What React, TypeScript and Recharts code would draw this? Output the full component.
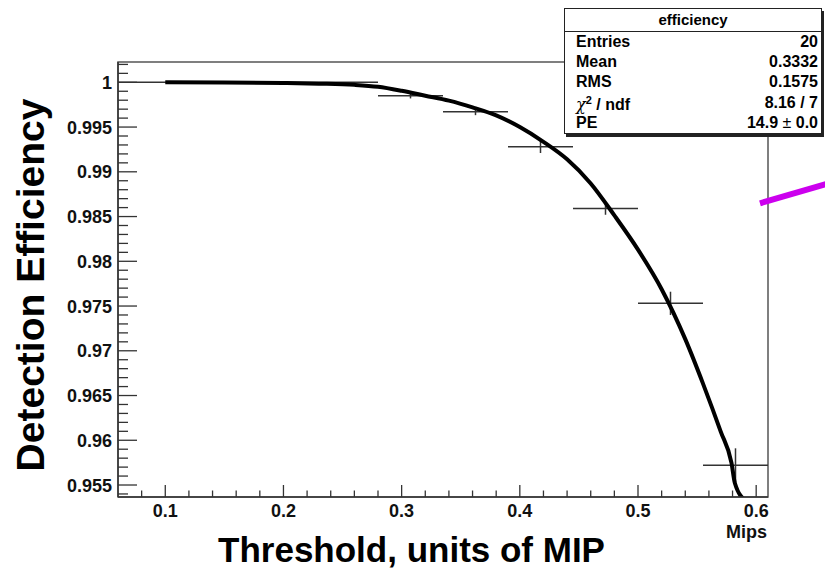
import React from 'react';
import {
  ComposedChart,
  XAxis,
  YAxis,
  Line,
  Scatter,
  ErrorBar,
  ReferenceArea,
  ReferenceLine,
} from 'recharts';

// ---- histogram bins (efficiency per threshold bin) ----
const binCenters = [0.0875, 0.1425, 0.1975, 0.2525, 0.3075, 0.3625, 0.4175, 0.4725, 0.5275, 0.5825];
const binEff = [1.0, 1.0, 1.0, 1.0, 0.9985, 0.9967, 0.9928, 0.9859, 0.9753, 0.9572];
const binHalfWidth = [0.0275, 0.0275, 0.0275, 0.0275, 0.0275, 0.0275, 0.0275, 0.0275, 0.0275, 0.0275];
const binErrY = [0, 0, 0, 0, 0.0003, 0.00037, 0.0007, 0.0007, 0.0013, 0.0019];

// ---- fitted curve ----
const fitX = [0.1, 0.15, 0.2, 0.23, 0.26, 0.28, 0.3, 0.32, 0.34, 0.36, 0.38, 0.4, 0.42, 0.44, 0.46, 0.48, 0.5, 0.52, 0.54, 0.555, 0.57, 0.5791, 0.582, 0.5913];
const fitY = [1.0, 0.99998, 0.99992, 0.99985, 0.99972, 0.9995, 0.99905, 0.9985, 0.99795, 0.9972, 0.9963, 0.995, 0.99335, 0.9914, 0.9887, 0.98513, 0.9813, 0.97688, 0.9713, 0.96633, 0.96096, 0.95747, 0.9552, 0.9532];

// ---- annotation stroke (magenta) ----
const arrowX = [0.6032, 0.66];
const arrowY = [0.98648, 0.98867];

// ---- axes ----
const xDomain: [number, number] = [0.06, 0.61];
const yDomain: [number, number] = [0.95366, 1.00227];
const xMajorTicks = [0.1, 0.2, 0.3, 0.4, 0.5, 0.6];
const xMinorTicks = [0.08, 0.12, 0.14, 0.16, 0.18, 0.22, 0.24, 0.26, 0.28, 0.32, 0.34, 0.36, 0.38, 0.42, 0.44, 0.46, 0.48, 0.52, 0.54, 0.56, 0.58];
const yMajorTicks = [0.955, 0.96, 0.965, 0.97, 0.975, 0.98, 0.985, 0.99, 0.995, 1];
const yMinorTicks = [0.954, 0.956, 0.957, 0.958, 0.959, 0.961, 0.962, 0.963, 0.964, 0.966, 0.967, 0.968, 0.969, 0.971, 0.972, 0.973, 0.974, 0.976, 0.977, 0.978, 0.979, 0.981, 0.982, 0.983, 0.984, 0.986, 0.987, 0.988, 0.989, 0.991, 0.992, 0.993, 0.994, 0.996, 0.997, 0.998, 0.999, 1.001, 1.002];

// ---- stats box ----
const statsTitle = 'efficiency';
const statsEntries = '20';
const statsMean = '0.3332';
const statsRMS = '0.1575';
const statsChi2 = '8.16 / 7';
const statsPE = '14.9';
const statsPEErr = '0.0';

const xAxisTitle = 'Threshold, units of MIP';
const yAxisTitle = 'Detection Efficiency';
const xUnit = 'Mips';

const binData = binCenters.map((x, i) => ({ x, y: binEff[i], ex: binHalfWidth[i], ey: binErrY[i] }));
const fitData = fitX.map((x, i) => ({ x, y: fitY[i] }));

const FONT = '"Liberation Sans", Arial, Helvetica, sans-serif';
const TICK_COLOR = '#333';

const isMajor = (v: number, majors: number[]) => majors.some((m) => Math.abs(m - v) < 1e-9);

const XTick = (props: any) => {
  const { x, y, payload } = props;
  const v = payload.value as number;
  const major = isMajor(v, xMajorTicks);
  return (
    <g>
      <line x1={x} y1={y} x2={x} y2={y - (major ? 12 : 6.5)} stroke={TICK_COLOR} strokeWidth={1.3} />
      {major && (
        <text x={x} y={y + 20} textAnchor="middle" fontFamily={FONT} fontWeight="bold" fontSize={18} fill="#111">
          {String(v)}
        </text>
      )}
    </g>
  );
};

const YTick = (props: any) => {
  const { x, y, payload } = props;
  const v = payload.value as number;
  const major = isMajor(v, yMajorTicks);
  return (
    <g>
      <line x1={x} y1={y} x2={x + (major ? 19 : 10)} y2={y} stroke={TICK_COLOR} strokeWidth={1.3} />
      {major && (
        <text x={x - 6} y={y + 6.5} textAnchor="end" fontFamily={FONT} fontWeight="bold" fontSize={18} fill="#111">
          {String(v)}
        </text>
      )}
    </g>
  );
};

const noShape = () => <g />;

const rowStyle: React.CSSProperties = {
  position: 'absolute',
  left: 11,
  right: 3,
  height: 20,
  display: 'flex',
  justifyContent: 'space-between',
  alignItems: 'center',
  fontSize: 16,
  fontWeight: 'bold',
  lineHeight: '20px',
};

export default function App() {
  const xTicks = [...xMinorTicks, ...xMajorTicks].sort((a, b) => a - b);
  const yTicks = [...yMinorTicks, ...yMajorTicks].sort((a, b) => a - b);
  const rows: [React.ReactNode, React.ReactNode][] = [
    ['Entries', statsEntries],
    ['Mean', statsMean],
    ['RMS', statsRMS],
    [
      <span>
        <span style={{ fontWeight: 'normal', fontStyle: 'italic', fontFamily: '"DejaVu Serif", serif' }}>χ</span>
        <sup style={{ fontSize: 11 }}>2</sup> / ndf
      </span>,
      statsChi2,
    ],
    [
      'PE',
      <span>
        {statsPE}
        <span style={{ fontWeight: 'normal' }}> ± </span>
        {statsPEErr}
      </span>,
    ],
  ];
  // row centres in page coordinates
  const rowCentres = [42, 62, 82, 102.5, 122.5];
  const boxTop = 8;
  return (
    <div style={{ position: 'absolute', left: 0, top: 0, width: 825, height: 570, background: '#fff', fontFamily: FONT, overflow: 'hidden' }}>
      <ComposedChart width={825} height={570} margin={{ top: 62, right: 57, bottom: 0, left: 0 }}>
        <XAxis
          type="number"
          dataKey="x"
          domain={xDomain}
          allowDataOverflow
          ticks={xTicks}
          interval={0}
          tickSize={0}
          tickMargin={0}
          tickLine={false}
          tick={<XTick />}
          height={73}
          axisLine={{ stroke: '#333', strokeWidth: 1.5 }}
        />
        <YAxis
          type="number"
          domain={yDomain}
          allowDataOverflow
          ticks={yTicks}
          interval={0}
          tickSize={0}
          tickMargin={0}
          tickLine={false}
          tick={<YTick />}
          width={118}
          axisLine={{ stroke: '#333', strokeWidth: 1.5 }}
        />
        <ReferenceArea
          x1={xDomain[0]}
          x2={xDomain[1]}
          y1={yDomain[0]}
          y2={yDomain[1]}
          fill="none"
          fillOpacity={0}
          stroke="#555"
          strokeWidth={1.5}
          ifOverflow="visible"
        />
        <Scatter data={binData} dataKey="y" shape={noShape} isAnimationActive={false}>
          <ErrorBar dataKey="ex" direction="x" width={0} stroke="#333" strokeWidth={1.5} isAnimationActive={false} />
          <ErrorBar dataKey="ey" direction="y" width={0} stroke="#333" strokeWidth={1.5} isAnimationActive={false} />
        </Scatter>
        <Line data={fitData} dataKey="y" type="monotone" stroke="#000" strokeWidth={4} dot={false} activeDot={false} isAnimationActive={false} />
        <ReferenceLine
          segment={[{ x: arrowX[0], y: arrowY[0] }, { x: arrowX[1], y: arrowY[1] }]}
          stroke="#cc00ee"
          strokeWidth={6}
          ifOverflow="visible"
        />
      </ComposedChart>

      <svg width={825} height={570} style={{ position: 'absolute', left: 0, top: 0, pointerEvents: 'none' }}>
        <text x={44} y={285} transform="rotate(-90 44 285)" textAnchor="middle" fontFamily={FONT} fontWeight="bold" fontSize={39} fill="#000">
          {yAxisTitle}
        </text>
        <text x={411.5} y={562} textAnchor="middle" fontFamily={FONT} fontWeight="bold" fontSize={35} fill="#000">
          {xAxisTitle}
        </text>
        <text x={767} y={538} textAnchor="end" fontFamily={FONT} fontWeight="bold" fontSize={18} fill="#111">
          {xUnit}
        </text>
      </svg>

      <div
        style={{
          position: 'absolute',
          left: 564,
          top: boxTop,
          width: 256,
          height: 124,
          background: '#fff',
          border: '1px solid #222',
          boxShadow: '2px 3px 0 #222',
          color: '#000',
        }}
      >
        <div style={{ position: 'absolute', left: 0, right: 0, top: 0, height: 22, textAlign: 'center', fontWeight: 'bold', fontSize: 15, lineHeight: '22px', borderBottom: '1px solid #222' }}>
          {statsTitle}
        </div>
        {rows.map(([label, value], i) => (
          <div key={i} style={{ ...rowStyle, top: rowCentres[i] - boxTop - 1 - 10 }}>
            <span>{label}</span>
            <span>{value}</span>
          </div>
        ))}
      </div>
    </div>
  );
}
